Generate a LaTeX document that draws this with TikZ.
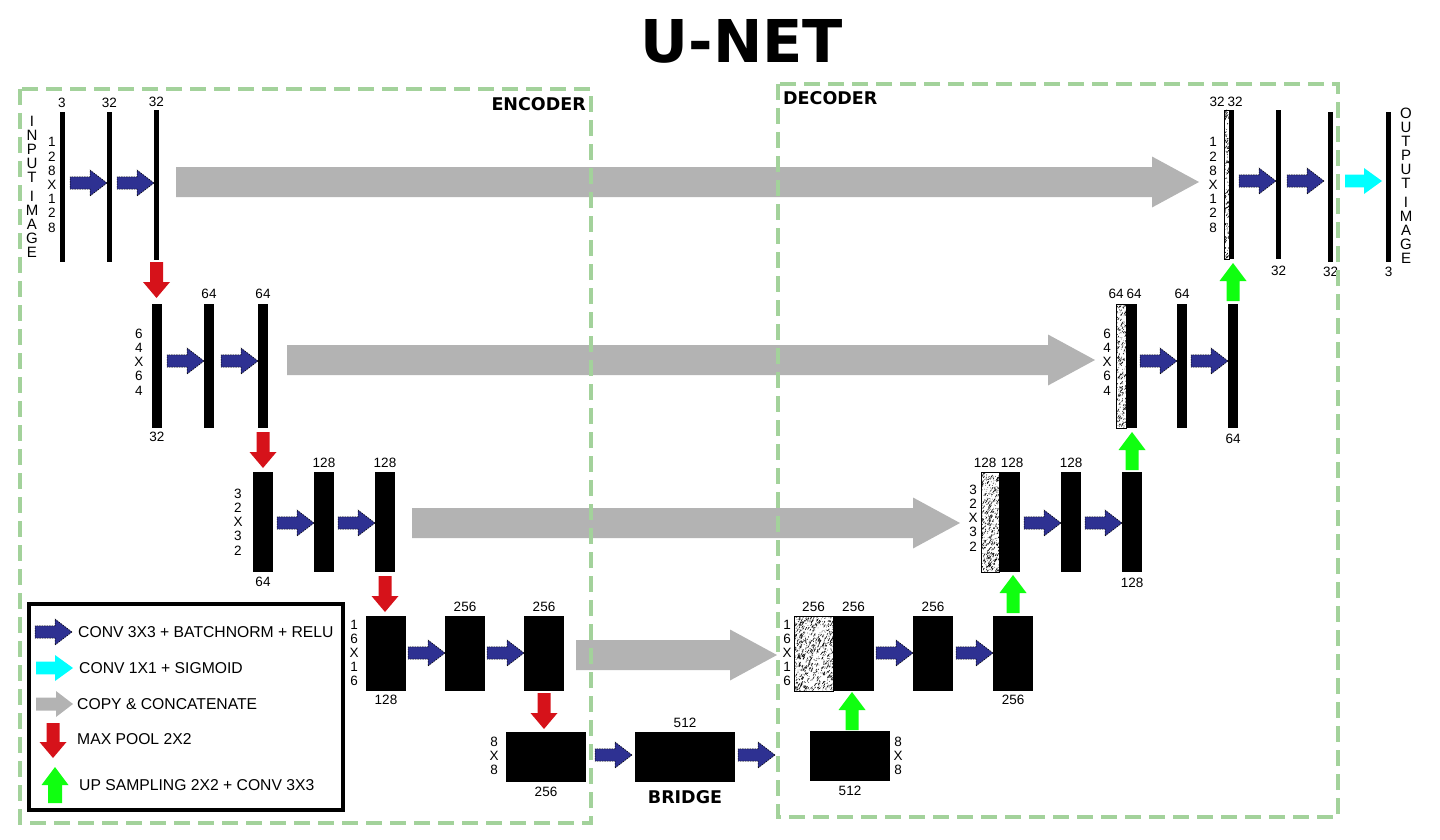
\documentclass[tikz,border=0pt]{standalone}
\usepackage{fontspec}
\setmainfont{Liberation Sans}
\newfontfamily\heavy{DejaVu Sans}
\usetikzlibrary{calc}
\definecolor{convblue}{RGB}{46,49,146}
\definecolor{cyanc}{RGB}{0,255,255}
\definecolor{copygray}{RGB}{179,179,179}
\definecolor{poolred}{RGB}{214,18,26}
\definecolor{upgreen}{RGB}{16,255,16}
\definecolor{boxgreen}{RGB}{163,210,155}

% block node: [style]{name}{x1}{y1}{x2}{y2}
\newcommand\mkblk[6][blk]{%
  \pgfmathsetmacro\bw{#5-#3}\pgfmathsetmacro\bh{#6-#4}%
  \pgfmathsetmacro\bx{(#3+#5)/2}\pgfmathsetmacro\by{(#4+#6)/2}%
  \node[#1,minimum width=\bw pt,minimum height=\bh pt] (#2) at (\bx,\by) {};}
% right arrow relative to tip: style, tip, L, sh, hh, hl
\newcommand\rtarr[6]{%
  \path[#1] (#2) -- ++({-#6},{-#5}) -- ++(0,{#5-#4}) -- ++({-#3+#6},0) -- ++(0,{2*#4}) -- ++({#3-#6},0) -- ++(0,{#5-#4}) -- cycle;}
% right arrow from start S to tip T: style, S, T, sh, hh, hl
\newcommand\rtarrST[6]{%
  \path[#1] (#3) -- ($(#3)+({-#6},{-#5})$) -- ($(#3)+({-#6},{-#4})$) -- ($(#2)+(0,{-#4})$) -- ($(#2)+(0,{#4})$) -- ($(#3)+({-#6},{#4})$) -- ($(#3)+({-#6},{#5})$) -- cycle;}
% down arrow, tip at bottom
\newcommand\dnarr[6]{%
  \path[#1] (#2) -- ++({-#5},{-#6}) -- ++({#5-#4},0) -- ++(0,{-#3+#6}) -- ++({2*#4},0) -- ++(0,{#3-#6}) -- ++({#5-#4},0) -- cycle;}
% up arrow, tip at top
\newcommand\uparr[6]{%
  \path[#1] (#2) -- ++({-#5},{#6}) -- ++({#5-#4},0) -- ++(0,{#3-#6}) -- ++({2*#4},0) -- ++(0,{-#3+#6}) -- ++({#5-#4},0) -- cycle;}
\newcommand\convA[1]{\rtarr{convarr}{#1}{37}{6.2}{13}{17}}
\newcommand\poolA[1]{\dnarr{poolarr}{#1}{36}{6.5}{13.5}{16}}
\newcommand\upA[1]{\uparr{upsamp}{#1}{38}{6.5}{13.5}{18}}
\newcommand\grayA[2]{\rtarrST{copyarr}{#1}{#2}{15}{25.5}{47}}
% noise texture in a stripe node
\newcommand\noise[2]{%
  \path (#1.north west); \pgfgetlastxy{\nax}{\nay}
  \path (#1.south east); \pgfgetlastxy{\nbx}{\nby}
  \begin{scope}
    \clip (#1.north west) rectangle (#1.south east);
    \foreach \k in {1,...,#2}{
      \pgfmathsetmacro\rx{\nax+rnd*(\nbx-\nax)}
      \pgfmathsetmacro\ry{\nby+rnd*(\nay-\nby)}
      \pgfmathsetmacro\rl{0.3+rnd*2.6}
      \pgfmathsetmacro\rg{rnd*60}
      \draw[line width=0.6pt,draw=black!\rg!black] (\rx pt,\ry pt) -- ++({\rl*0.6},{-\rl});
    }
    \foreach \k in {1,...,#2}{
      \pgfmathsetmacro\rx{\nax+rnd*(\nbx-\nax)}
      \pgfmathsetmacro\ry{\nby+rnd*(\nay-\nby)}
      \fill[black!70] (\rx pt,\ry pt) circle (0.45);
    }
  \end{scope}
  \draw[line width=0.6pt] (#1.north west) rectangle (#1.south east);}

\begin{document}
\begin{tikzpicture}[x=1pt,y=-1pt,
  blk/.style={fill=black,inner sep=0pt,outer sep=0pt},
  stripe/.style={fill=white,inner sep=0pt,outer sep=0pt},
  lab/.style={font=\fontsize{13.5}{14.2}\selectfont,inner sep=0pt},
  vlab/.style={lab,align=center},
  vbig/.style={font=\fontsize{15}{14}\selectfont,inner sep=0pt,align=center},
  heading/.style={font=\heavy\bfseries\fontsize{17.5}{20}\selectfont,inner sep=0pt},
  leg/.style={font=\fontsize{15.7}{18}\selectfont,inner sep=0pt,anchor=west},
  convarr/.style={fill=convblue,draw=black,line width=0.5pt,dash pattern=on 1.5pt off 1pt},
  sigarr/.style={fill=cyanc},
  copyarr/.style={fill=copygray},
  poolarr/.style={fill=poolred},
  upsamp/.style={fill=upgreen},
  region/.style={draw=boxgreen,line width=4pt,dash pattern=on 16pt off 8pt}]
\useasboundingbox (0,0) rectangle (1440,840);
\pgfmathsetseed{4242}

% title
\node[font=\heavy\bfseries\fontsize{59}{64}\selectfont,inner sep=0pt] (title) at (742,41.5) {U-NET};

% row coordinates
\coordinate (re1) at (0,183);
\coordinate (rd1) at (0,181);
\coordinate (r2) at (0,361);
\coordinate (r3) at (0,523);
\coordinate (r4) at (0,653);
\coordinate (r5) at (0,755);
\coordinate (gr1) at (0,182);
\coordinate (gr2) at (0,360);
\coordinate (gr3) at (0,523);
\coordinate (gr4) at (0,655);

% encoder blocks
\mkblk{e11}{59.5}{112}{64.5}{262}
\mkblk{e12}{107}{112}{112}{262}
\mkblk{e13}{154}{110}{159}{260}
\mkblk{e21}{152}{304}{162}{428}
\mkblk{e22}{204}{304}{214}{428}
\mkblk{e23}{258}{304}{268}{428}
\mkblk{e31}{253}{472}{273}{572}
\mkblk{e32}{314}{472}{334}{572}
\mkblk{e33}{375}{472}{395}{572}
\mkblk{e41}{366}{616}{406}{691}
\mkblk{e42}{445}{616}{485}{691}
\mkblk{e43}{524}{616}{564}{691}
\mkblk{e51}{506}{732}{586}{782}
\mkblk{bridge}{635}{732}{735}{782}
% decoder blocks
\mkblk{d51}{810}{731}{890}{781}
\mkblk[stripe]{d4s}{794}{616}{833}{691}
\mkblk{d41}{833}{616}{874}{691}
\mkblk{d42}{913}{616}{953}{691}
\mkblk{d43}{993}{616}{1033}{691}
\mkblk[stripe]{d3s}{981}{472}{999}{572}
\mkblk{d31}{999}{472}{1020}{572}
\mkblk{d32}{1061}{472}{1081}{572}
\mkblk{d33}{1122}{472}{1142}{572}
\mkblk[stripe]{d2s}{1116}{304}{1126}{428}
\mkblk{d21}{1126}{304}{1137}{428}
\mkblk{d22}{1177}{304}{1187}{428}
\mkblk{d23}{1228}{304}{1238}{428}
\mkblk[stripe]{d1s}{1224}{110}{1229}{259}
\mkblk{d11}{1229}{110}{1234}{259}
\mkblk{d12}{1276}{110}{1281}{259}
\mkblk{d13}{1328}{112}{1333}{262}
\mkblk{out}{1386}{112}{1391}{262}

\noise{d4s}{380}
\noise{d3s}{230}
\noise{d2s}{130}
\noise{d1s}{80}

% conv arrows
\convA{e12.west|-re1}
\convA{e13.west|-re1}
\convA{e22.west|-r2}
\convA{e23.west|-r2}
\convA{e32.west|-r3}
\convA{e33.west|-r3}
\convA{e42.west|-r4}
\convA{e43.west|-r4}
\coordinate (b1t) at ($(bridge.west|-r5)+(-3,0)$);
\convA{b1t}
\coordinate (b2t) at ($(bridge.east|-r5)+(40,0)$);
\convA{b2t}
\convA{d42.west|-r4}
\convA{d43.west|-r4}
\convA{d32.west|-r3}
\convA{d33.west|-r3}
\convA{d22.west|-r2}
\convA{d23.west|-r2}
\convA{d12.west|-rd1}
\coordinate (d13t) at ($(d13.west|-rd1)+(-4,0)$);
\convA{d13t}
\coordinate (outt) at ($(out.west|-rd1)+(-4,0)$);
\rtarr{sigarr}{outt}{37}{6.3}{13}{18}

% copy arrows
\coordinate (g1s) at ($(e13.east|-gr1)+(17,0)$);
\coordinate (g1t) at ($(d1s.west|-gr1)+(-25,0)$);
\coordinate (g2s) at ($(e23.east|-gr2)+(19,0)$);
\coordinate (g2t) at ($(d2s.west|-gr2)+(-21,0)$);
\coordinate (g3s) at ($(e33.east|-gr3)+(17,0)$);
\coordinate (g3t) at ($(d3s.west|-gr3)+(-21,0)$);
\coordinate (g4s) at ($(e43.east|-gr4)+(12,0)$);
\coordinate (g4t) at ($(d4s.west|-gr4)+(-17,0)$);
\grayA{g1s}{g1t}
\grayA{g2s}{g2t}
\grayA{g3s}{g3t}
\grayA{g4s}{g4t}

% max pool arrows
\coordinate (p1) at ($(e13.south|-e21.north)+(0,-6)$);
\coordinate (p2) at ($(e23.south|-e31.north)+(0,-4)$);
\coordinate (p3) at ($(e33.south|-e41.north)+(0,-4)$);
\coordinate (p4) at ($(e43.south|-e51.north)+(0,-3)$);
\poolA{p1}
\poolA{p2}
\poolA{p3}
\poolA{p4}

% up-sampling arrows
\coordinate (u5) at ($(d41.south)+(-1.5,1)$);
\coordinate (u4) at ($(d43.north|-d31.south)+(0,3)$);
\coordinate (u3) at ($(d33.north|-d21.south)+(0,4)$);
\coordinate (u2) at ($(d23.north|-d11.south)+(0,4)$);
\upA{u5}
\upA{u4}
\upA{u3}
\upA{u2}

% labels above
\node[lab,anchor=south] (le11) at ($(e11.north)+(0,-4)$) {3};
\node[lab,anchor=south] (le12) at ($(e12.north)+(0,-4)$) {32};
\node[lab,anchor=south] (le13) at ($(e13.north)+(0,-3)$) {32};
\node[lab,anchor=south] (le22) at ($(e22.north)+(0,-5)$) {64};
\node[lab,anchor=south] (le23) at ($(e23.north)+(0,-5)$) {64};
\node[lab,anchor=south] (le32) at ($(e32.north)+(0,-4)$) {128};
\node[lab,anchor=south] (le33) at ($(e33.north)+(0,-4)$) {128};
\node[lab,anchor=south] (le42) at ($(e42.north)+(0,-4)$) {256};
\node[lab,anchor=south] (le43) at ($(e43.north)+(0,-4)$) {256};
\node[lab,anchor=south] (lbr) at ($(bridge.north)+(0,-4)$) {512};
\node[lab,anchor=south] (ld4s) at ($(d4s.north)+(0,-4)$) {256};
\node[lab,anchor=south] (ld41) at ($(d41.north)+(0,-4)$) {256};
\node[lab,anchor=south] (ld42) at ($(d42.north)+(0,-4)$) {256};
\node[lab,anchor=south] (ld3s) at ($(d3s.north)+(-5,-4)$) {128};
\node[lab,anchor=south] (ld31) at ($(d31.north)+(2.5,-4)$) {128};
\node[lab,anchor=south] (ld32) at ($(d32.north)+(0,-4)$) {128};
\node[lab,anchor=south] (ld2s) at ($(d2s.north)+(-5,-5)$) {64};
\node[lab,anchor=south] (ld21) at ($(d21.north)+(2.5,-5)$) {64};
\node[lab,anchor=south] (ld22) at ($(d22.north)+(0,-5)$) {64};
\node[lab,anchor=south] (ld1s) at ($(d1s.north)+(-9.5,-3)$) {32};
\node[lab,anchor=south] (ld11) at ($(d11.north)+(3.5,-3)$) {32};
% labels below
\node[lab,anchor=north] (le21) at ($(e21.south)+(0,4)$) {32};
\node[lab,anchor=north] (le31) at ($(e31.south)+(0,5)$) {64};
\node[lab,anchor=north] (le41) at ($(e41.south)+(0,4)$) {128};
\node[lab,anchor=north] (le51) at ($(e51.south)+(0,5)$) {256};
\node[lab,anchor=north] (ld51) at ($(d51.south)+(0,5)$) {512};
\node[lab,anchor=north] (ld43) at ($(d43.south)+(0,4)$) {256};
\node[lab,anchor=north] (ld33) at ($(d33.south)+(0,6)$) {128};
\node[lab,anchor=north] (ld23) at ($(d23.south)+(0,6)$) {64};
\node[lab,anchor=north] (ld12) at ($(d12.south)+(0,7)$) {32};
\node[lab,anchor=north] (ld13) at ($(d13.south)+(0,5)$) {32};
\node[lab,anchor=north] (lout) at ($(out.south)+(0,5)$) {3};

% vertical size labels
\node[vbig] (inlab) at (32,187) {I\\N\\P\\U\\T\\[5pt]I\\M\\A\\G\\E};
\node[vbig] (outlab) at (1406,186) {O\\U\\T\\P\\U\\T\\[5pt]I\\M\\A\\G\\E};
\node[vlab] (s1e) at (52,185) {1\\2\\8\\X\\1\\2\\8};
\node[vlab] (s2e) at (139,362) {6\\4\\X\\6\\4};
\node[vlab] (s3e) at (238,522) {3\\2\\X\\3\\2};
\node[vlab] (s4e) at (354,653) {1\\6\\X\\1\\6};
\node[vlab] (s5e) at (494,756) {8\\X\\8};
\node[vlab] (s5d) at (898,756) {8\\X\\8};
\node[vlab] (s4d) at (787,653) {1\\6\\X\\1\\6};
\node[vlab] (s3d) at (973,518) {3\\2\\X\\3\\2};
\node[vlab] (s2d) at (1107,362) {6\\4\\X\\6\\4};
\node[vlab] (s1d) at (1213,185) {1\\2\\8\\X\\1\\2\\8};

% headings
\node[heading,anchor=east] (enc) at (586,104.5) {ENCODER};
\node[heading,anchor=west] (dec) at (783,98) {DECODER};
\node[heading] (brlab) at (685,797) {BRIDGE};

% legend
\draw[line width=4.5pt] (29,604) rectangle (343,810);
\coordinate (lg1) at (72,632);
\coordinate (lg2) at (73,668);
\coordinate (lg3) at (73,704);
\coordinate (lg4) at (53,758);
\coordinate (lg5) at (55,767);
\convA{lg1}
\rtarr{sigarr}{lg2}{37}{6.3}{13}{18}
\rtarr{copyarr}{lg3}{37}{6.5}{13}{17}
\dnarr{poolarr}{lg4}{35}{6.5}{13.5}{16}
\uparr{upsamp}{lg5}{36}{7}{13.5}{18}
\node[leg] (t1) at (78,632) {CONV 3X3 + BATCHNORM + RELU};
\node[leg] (t2) at (79,668) {CONV 1X1 + SIGMOID};
\node[leg] (t3) at (77,704) {COPY \& CONCATENATE};
\node[leg] (t4) at (77,739) {MAX POOL 2X2};
\node[leg] (t5) at (79,785) {UP SAMPLING 2X2 + CONV 3X3};

% encoder / decoder regions
\draw[region] (20,89) rectangle (591,823);
\draw[region] (778,84) rectangle (1338,817);
\end{tikzpicture}
\end{document}
